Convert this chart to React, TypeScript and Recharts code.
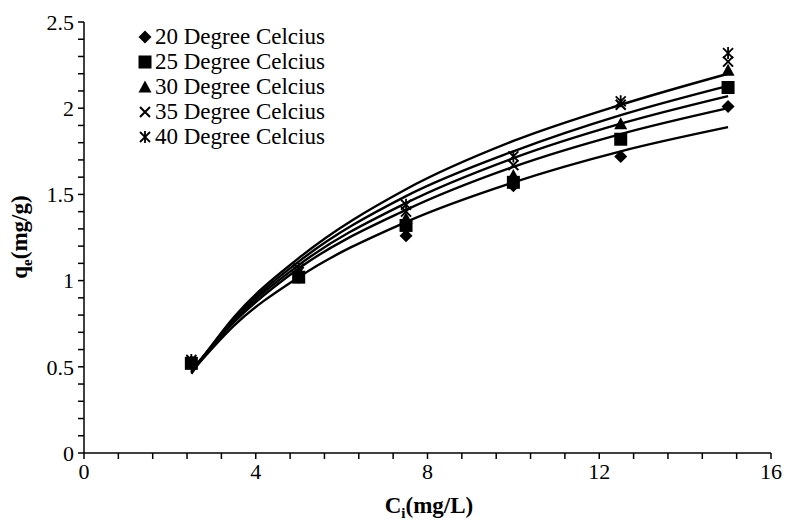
import React from "react";
import { ComposedChart, Line, Scatter, XAxis, YAxis, Label } from "recharts";

// concentrations where the points were measured
const C_VALUES = [2.5, 5, 7.5, 10, 12.5, 15];
const Q_20 = [0.53, 1.02, 1.26, 1.55, 1.72, 2.01];
const Q_25 = [0.52, 1.02, 1.32, 1.57, 1.82, 2.12];
const Q_30 = [0.53, 1.04, 1.36, 1.61, 1.91, 2.22];
const Q_35 = [0.53, 1.05, 1.4, 1.67, 2.02, 2.27];
const Q_40 = [0.54, 1.07, 1.44, 1.72, 2.04, 2.32];

// trend curves
const FIT_C = [2.5, 3.5, 5, 7.5, 10, 12.5, 15];
const FIT_20 = [0.47, 0.74, 1.02, 1.34, 1.57, 1.75, 1.89];
const FIT_25 = [0.48, 0.76, 1.07, 1.41, 1.66, 1.85, 2.0];
const FIT_30 = [0.47, 0.77, 1.09, 1.45, 1.71, 1.91, 2.07];
const FIT_35 = [0.47, 0.78, 1.11, 1.49, 1.75, 1.96, 2.13];
const FIT_40 = [0.46, 0.79, 1.13, 1.53, 1.81, 2.02, 2.2];

const SERIES_NAMES = [
  "20 Degree Celcius",
  "25 Degree Celcius",
  "30 Degree Celcius",
  "35 Degree Celcius",
  "40 Degree Celcius",
];
const MARKERS = ["diamond", "square", "triangle", "cross", "star"];

const X_TICKS = [0, 0.8, 1.6, 2.4, 3.2, 4, 4.8, 5.6, 6.4, 7.2, 8, 8.8, 9.6, 10.4, 11.2, 12, 12.8, 13.6, 14.4, 15.2, 16];
const X_LABELS = [0, 4, 8, 12, 16];
const Y_TICKS = [0, 0.1, 0.2, 0.3, 0.4, 0.5, 0.6, 0.7, 0.8, 0.9, 1, 1.1, 1.2, 1.3, 1.4, 1.5, 1.6, 1.7, 1.8, 1.9, 2, 2.1, 2.2, 2.3, 2.4, 2.5];
const Y_LABELS = [0, 0.5, 1, 1.5, 2, 2.5];

const FONT = 'Tinos, "Times New Roman", Times, "Liberation Serif", "Noto Serif", FreeSerif, serif';

const points = [Q_20, Q_25, Q_30, Q_35, Q_40].map((qs) =>
  C_VALUES.map((c, i) => ({ x: c, y: qs[i] }))
);
const fits = [FIT_20, FIT_25, FIT_30, FIT_35, FIT_40].map((qs) =>
  FIT_C.map((c, i) => ({ x: c, y: qs[i] }))
);

function Marker({ kind, cx, cy }: { kind: string; cx: number; cy: number }) {
  if (kind === "diamond")
    return <path d={`M${cx},${cy - 6.5}L${cx + 6.5},${cy}L${cx},${cy + 6.5}L${cx - 6.5},${cy}Z`} fill="#000" />;
  if (kind === "square") return <rect x={cx - 6.5} y={cy - 6.5} width={13} height={13} fill="#000" />;
  if (kind === "triangle")
    return <path d={`M${cx},${cy - 6.5}L${cx + 6.5},${cy + 5.5}L${cx - 6.5},${cy + 5.5}Z`} fill="#000" />;
  if (kind === "cross")
    return (
      <path
        d={`M${cx - 5},${cy - 5}L${cx + 5},${cy + 5}M${cx + 5},${cy - 5}L${cx - 5},${cy + 5}`}
        stroke="#000"
        strokeWidth={2}
      />
    );
  return (
    <path
      d={`M${cx - 5},${cy - 5}L${cx + 5},${cy + 5}M${cx + 5},${cy - 5}L${cx - 5},${cy + 5}M${cx},${cy - 6}L${cx},${cy + 6}`}
      stroke="#000"
      strokeWidth={1.8}
    />
  );
}

function ChartLegend() {
  return (
    <div style={{ position: "absolute", left: 137, top: 24, fontFamily: FONT, fontSize: 23, color: "#000" }}>
      {SERIES_NAMES.map((name, i) => (
        <div key={name} style={{ display: "flex", alignItems: "center", height: 25 }}>
          <svg width={17} height={16} style={{ marginRight: 1 }}>
            <Marker kind={MARKERS[i]} cx={8} cy={8} />
          </svg>
          <span>{name}</span>
        </div>
      ))}
    </div>
  );
}

export default function App() {
  const axisLine = { stroke: "#000", strokeWidth: 1.5 };
  const tick = { fontSize: 22, fill: "#000", fontFamily: FONT };

  return (
    <div style={{ position: "absolute", left: 0, top: 0, width: 787, height: 520, background: "#fff", fontFamily: FONT }}>
      <ComposedChart width={787} height={520} margin={{ top: 22, right: 16, left: 24, bottom: 27 }}>
        <XAxis
          type="number"
          dataKey="x"
          domain={[0, 16]}
          ticks={X_TICKS}
          interval={0}
          tickSize={6}
          tickMargin={4}
          axisLine={axisLine}
          tickLine={axisLine}
          tick={tick}
          tickFormatter={(v: number) => (X_LABELS.includes(v) ? String(v) : "")}
          height={40}
        >
          <Label
            content={() => (
              <text x={429} y={513} textAnchor="middle" fontFamily={FONT} fontSize={23} fontWeight="bold" fill="#000">
                C
                <tspan dy={5} fontSize={15}>i</tspan>
                <tspan dy={-5}>(mg/L)</tspan>
              </text>
            )}
          />
        </XAxis>
        <YAxis
          type="number"
          dataKey="y"
          domain={[0, 2.5]}
          ticks={Y_TICKS}
          interval={0}
          tickSize={6}
          tickMargin={4}
          axisLine={axisLine}
          tickLine={axisLine}
          tick={tick}
          tickFormatter={(v: number) => (Y_LABELS.includes(v) ? String(v) : "")}
          width={60}
        >
          <Label
            content={() => (
              <text
                x={27}
                y={237}
                textAnchor="middle"
                transform="rotate(-90, 27, 237)"
                fontFamily={FONT}
                fontSize={23}
                fontWeight="bold"
                fill="#000"
              >
                q
                <tspan dy={5} fontSize={15}>e</tspan>
                <tspan dy={-5}>(mg/g)</tspan>
              </text>
            )}
          />
        </YAxis>
        {fits.map((d, i) => (
          <Line
            key={`fit${i}`}
            data={d}
            dataKey="y"
            type="monotone"
            stroke="#000"
            strokeWidth={2.4}
            dot={false}
            activeDot={false}
            isAnimationActive={false}
          />
        ))}
        {points.map((d, i) => (
          <Scatter
            key={`pts${i}`}
            name={SERIES_NAMES[i]}
            data={d}
            dataKey="y"
            isAnimationActive={false}
            shape={(p: any) => <Marker kind={MARKERS[i]} cx={p.cx} cy={p.cy} />}
          />
        ))}
      </ComposedChart>
      <ChartLegend />
    </div>
  );
}
